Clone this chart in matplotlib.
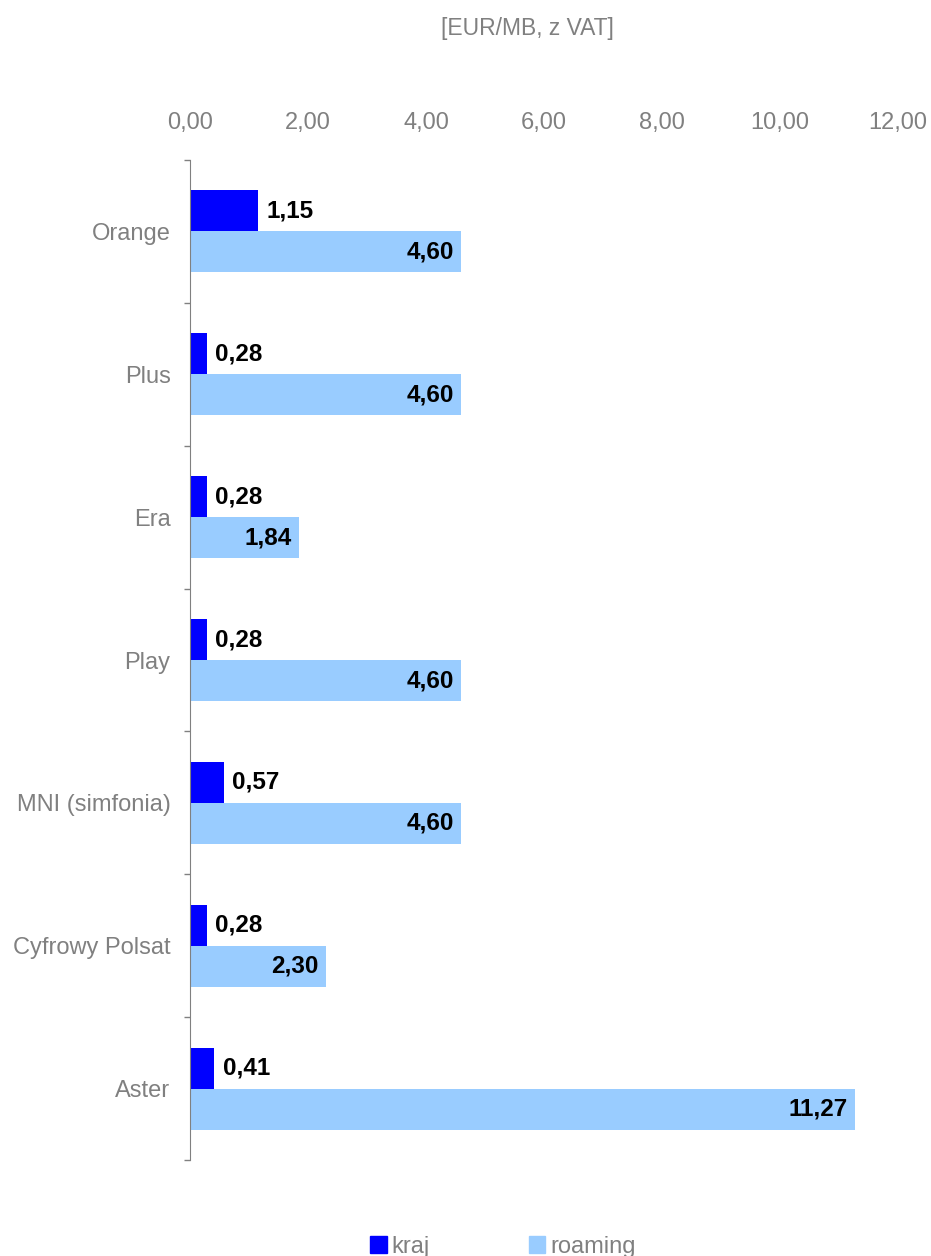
import matplotlib.pyplot as plt
import matplotlib.patches as mpatches
import numpy as np

plt.rcParams['font.family'] = ['Liberation Sans', 'DejaVu Sans']

operators = ['Orange', 'Plus', 'Era', 'Play', 'MNI (simfonia)', 'Cyfrowy Polsat', 'Aster']
kraj = [1.15, 0.28, 0.28, 0.28, 0.57, 0.28, 0.41]
roaming = [4.60, 4.60, 1.84, 4.60, 4.60, 2.30, 11.27]
xticks = [0, 2, 4, 6, 8, 10, 12]

gray = '#808080'
c_kraj = '#0000FF'
c_roam = '#99CCFF'

def fmt(v):
    return f'{v:.2f}'.replace('.', ',')

fig = plt.figure(figsize=(9.31, 12.56), dpi=100)
ax = fig.add_axes([190/931, 1 - 1160/1256, 708/931, 1000/1256])

y = np.arange(len(operators))
h = 0.287
ax.barh(y - h/2, kraj, height=h, color=c_kraj)
ax.barh(y + h/2, roaming, height=h, color=c_roam)

for i in range(len(operators)):
    ax.text(kraj[i] + 0.15, y[i] - h/2, fmt(kraj[i]), va='center', ha='left',
            fontsize=17.5, fontweight='bold', color='black')
    ax.text(roaming[i] - 0.12, y[i] + h/2, fmt(roaming[i]), va='center', ha='right',
            fontsize=17.5, fontweight='bold', color='black')

ax.set_xlim(0, 12)
ax.set_ylim(len(operators) - 0.5, -0.5)
ax.xaxis.tick_top()
ax.set_xticks(xticks)
ax.set_xticklabels([fmt(v) for v in xticks])
ax.tick_params(axis='x', length=0, pad=19, labelsize=17, labelcolor=gray)

ax.set_yticks(y)
ax.set_yticklabels(operators)
ax.tick_params(axis='y', which='major', length=0, pad=14, labelsize=17, labelcolor=gray)
ax.set_yticks(np.arange(len(operators) + 1) - 0.5, minor=True)
ax.tick_params(axis='y', which='minor', length=4, width=1, color=gray, direction='out')

for s in ['top', 'right', 'bottom']:
    ax.spines[s].set_visible(False)
ax.spines['left'].set_color(gray)

fig.text(527/931, 1 - 28/1256, '[EUR/MB, z VAT]', ha='center', va='center',
         fontsize=16.5, color=gray)

handles = [mpatches.Patch(color=c_kraj, label='kraj'),
           mpatches.Patch(color=c_roam, label='roaming')]
leg = fig.legend(handles=handles, loc='center', bbox_to_anchor=(503/931, 1 - 1247/1256),
                 ncol=2, frameon=False, fontsize=17, handlelength=0.7, handleheight=0.7,
                 handletextpad=0.2, columnspacing=4.2)
for t in leg.get_texts():
    t.set_color(gray)

fig.savefig('out.png', dpi=100)
